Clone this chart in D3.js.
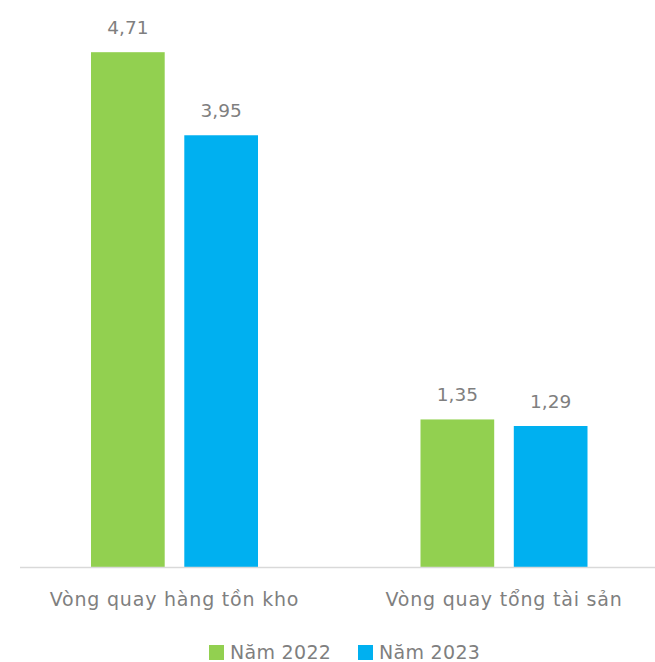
<!DOCTYPE html>
<html lang="vi">
<head>
<meta charset="UTF-8">
<title>chart</title>
<script src="https://cdn.jsdelivr.net/npm/d3@7"></script>
<style>
    body { margin: 0; background: #fff; overflow: hidden; }
    text { font-family: "DejaVu Sans", sans-serif; fill: #7f7f7f; }
</style>
</head>
<body>
<div id="chart"></div>
<script>
    // dữ liệu
    var categories = ['Vòng quay hàng tồn kho', 'Vòng quay tổng tài sản'];
    var series = ['Năm 2022', 'Năm 2023'];
    var values2022 = [4.71, 1.35];
    var values2023 = [3.95, 1.29];
    var colors = ['#92d050', '#00b0f0'];

    var width = 655, height = 662;
    var baseY = 567;

    var svg = d3.select('#chart').append('svg')
        .attr('width', width)
        .attr('height', height)
        .style('display', 'block');

    var x0 = d3.scaleBand().domain(categories).range([9.75, 668.75]);
    var x1 = d3.scaleBand().domain(series).range([0, 167]).paddingInner(0.21);
    var y = d3.scaleLinear().domain([0, 5]).range([baseY, baseY - 546.5]);

    var rows = categories.map(function (c, i) {
        return {cat: c, vals: [values2022[i], values2023[i]]};
    });

    var g = svg.selectAll('.grp').data(rows).enter().append('g')
        .attr('transform', function (d) { return 'translate(' + (x0(d.cat) + x0.bandwidth() / 2 - 83.5) + ',0)'; });

    g.selectAll('rect').data(function (d) { return d.vals; }).enter().append('rect')
        .attr('x', function (d, i) { return x1(series[i]); })
        .attr('width', x1.bandwidth())
        .attr('y', function (d) { return y(d); })
        .attr('height', function (d) { return baseY - y(d); })
        .attr('fill', function (d, i) { return colors[i]; });

    g.selectAll('.val').data(function (d) { return d.vals; }).enter().append('text')
        .attr('class', 'val')
        .attr('x', function (d, i) { return x1(series[i]) + x1.bandwidth() / 2; })
        .attr('y', function (d) { return y(d) - 18.5; })
        .attr('text-anchor', 'middle')
        .attr('font-size', 18.5)
        .text(function (d) { return d3.format('.2f')(d).replace('.', ','); });

    // trục
    svg.append('line')
        .attr('x1', 20).attr('x2', width)
        .attr('y1', baseY + 0.5).attr('y2', baseY + 0.5)
        .attr('stroke', '#d9d9d9').attr('stroke-width', 1.5);

    svg.selectAll('.cat').data(categories).enter().append('text')
        .attr('class', 'cat')
        .attr('x', function (d) { return x0(d) + x0.bandwidth() / 2; })
        .attr('y', 606)
        .attr('text-anchor', 'middle')
        .attr('font-size', 19)
        .attr('letter-spacing', 0.8)
        .text(function (d) { return d; });

    // chú thích
    var legendX = [209, 358];
    var lg = svg.selectAll('.lg').data(series).enter().append('g')
        .attr('transform', function (d, i) { return 'translate(' + legendX[i] + ',645)'; });
    lg.append('rect').attr('width', 15).attr('height', 15)
        .attr('fill', function (d, i) { return colors[i]; });
    lg.append('text').attr('x', 21).attr('y', 13.5)
        .attr('font-size', 19)
        .attr('letter-spacing', 0.3)
        .text(function (d) { return d; });
</script>
</body>
</html>
